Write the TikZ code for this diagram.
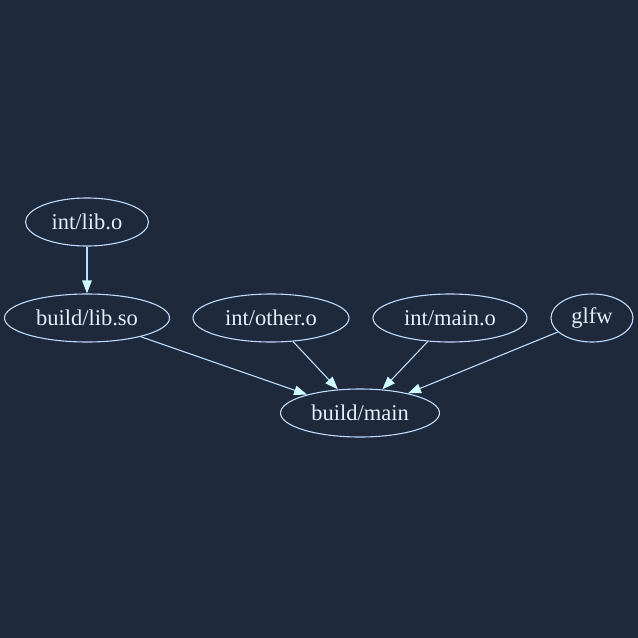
\documentclass[tikz,border=0pt]{standalone}
\usepackage{fontspec}
\setmainfont{Liberation Serif}
\usetikzlibrary{shapes.geometric,arrows.meta}
\definecolor{bg}{HTML}{1E293B}
\definecolor{stroke}{HTML}{BFDBFE}
\definecolor{tip}{HTML}{CFFAFE}
\definecolor{txt}{HTML}{E0F2FE}
\begin{document}
\begin{tikzpicture}[x=1pt,y=-1pt,
  nd/.style={ellipse,draw=stroke,line width=1.1pt,text=txt,inner sep=0pt,
    font=\fontsize{22.5}{26}\selectfont},
  edge/.style={draw=stroke,line width=1.1pt,-{Triangle[length=13pt,width=9.5pt,fill=tip,color=tip]}}]
\fill[bg] (0,0) rectangle (638,638);
\useasboundingbox (0,0) rectangle (638,638);
\node[nd,minimum width=123pt,minimum height=48pt] (libo) at (87,222) {int/lib.o};
\node[nd,minimum width=165pt,minimum height=48pt] (libso) at (87,318) {build/lib.so};
\node[nd,minimum width=156pt,minimum height=48pt] (other) at (271,318) {int/other.o};
\node[nd,minimum width=154pt,minimum height=48pt] (mainob) at (450,318) {int/main.o};
\node[nd,minimum width=82pt,minimum height=48pt] (glfw) at (592,318) {glfw};
\node[nd,minimum width=159pt,minimum height=48pt] (main) at (360,413) {build/main};
\draw[edge] (libo) -- (libso);
\draw[edge] (libso) -- (main);
\draw[edge] (other) -- (main);
\draw[edge] (mainob) -- (main);
\draw[edge] (glfw) -- (main);
\end{tikzpicture}
\end{document}
